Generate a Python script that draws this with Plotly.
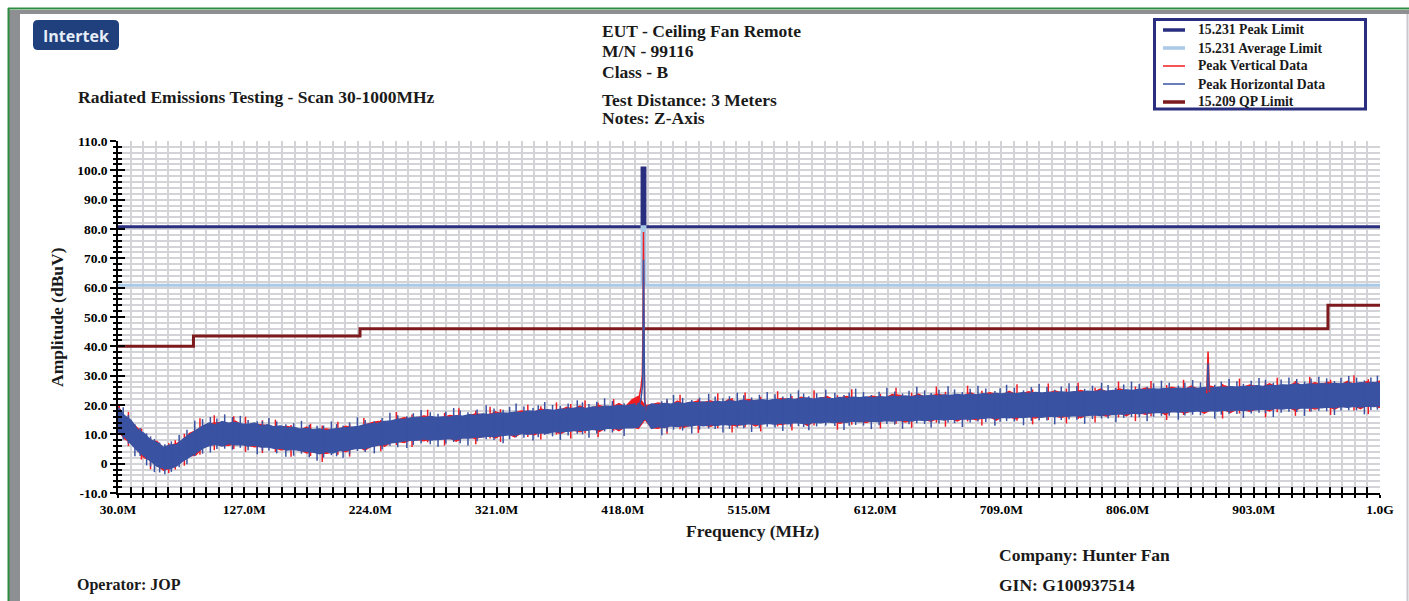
import plotly.graph_objects as go

# ---------------- scan data (dBuV), 5 MHz bins from 30 MHz ----------------
SCAN_START_MHZ = 30
SCAN_STEP_MHZ = 5

# Peak Horizontal Data: upper / lower envelope of the dense trace per bin
H_UP = [
    19.2, 16.4, 14.8, 11.6, 10.4, 8.1, 7.2, 5.6, 6.4, 6.5,
    8.4, 9.9, 11.6, 12.8, 13.9, 13.2, 14.4, 13.8, 14.1, 13.6,
    13.4, 13.9, 12.8, 13.3, 12.6, 12.9, 12.2, 12.5, 11.8, 12.0,
    11.6, 11.9, 11.3, 11.8, 12.0, 12.2, 12.6, 12.7, 13.4, 13.5,
    13.8, 14.4, 14.6, 15.2, 15.1, 15.6, 15.9, 15.7, 16.1, 15.8,
    16.0, 15.9, 16.4, 16.2, 16.7, 16.5, 17.0, 16.8, 17.1, 17.3,
    17.2, 17.6, 17.4, 18.0, 17.8, 18.1, 18.4, 18.2, 18.6, 18.7,
    18.8, 19.1, 18.9, 19.4, 19.2, 19.6, 19.5, 19.9, 19.7, 20.2,
    20.6, 19.0, 20.4, 20.1, 20.6, 20.3, 20.8, 20.5, 21.0, 20.7,
    21.1, 20.8, 21.3, 21.0, 21.5, 21.2, 21.7, 21.3, 21.6, 21.8,
    21.5, 22.0, 21.7, 22.2, 21.9, 22.1, 22.4, 22.0, 22.5, 22.3,
    22.2, 22.6, 22.3, 22.7, 22.5, 22.8, 22.4, 22.9, 22.7, 23.0,
    22.8, 23.1, 22.9, 23.2, 23.0, 23.4, 23.1, 23.5, 23.3, 23.6,
    23.4, 23.7, 23.5, 23.9, 23.6, 24.0, 23.8, 24.1, 23.9, 24.2,
    24.0, 24.3, 24.1, 24.4, 24.2, 24.5, 24.3, 24.6, 24.4, 24.7,
    24.6, 24.9, 24.7, 25.0, 24.9, 25.2, 25.0, 25.4, 25.2, 25.5,
    25.4, 25.7, 25.5, 25.8, 25.6, 25.9, 25.7, 26.0, 25.8, 26.1,
    26.0, 26.3, 26.1, 26.4, 26.3, 26.6, 26.4, 26.7, 26.6, 26.9,
    26.8, 27.1, 26.9, 27.2, 27.0, 27.3, 27.1, 27.4, 27.2, 27.5,
    27.3, 27.6, 27.4, 27.7, 27.5,
]
H_LO = [
    11.0, 9.2, 6.8, 4.4, 2.6, 0.9, -0.9, -1.6, -1.8, -0.8,
    0.9, 2.3, 3.6, 5.2, 6.1, 6.6, 6.0, 6.8, 6.4, 6.5,
    6.0, 6.3, 5.6, 5.7, 5.2, 5.3, 4.6, 4.9, 4.4, 4.1,
    3.9, 3.3, 4.1, 3.6, 4.4, 4.5, 4.8, 5.3, 5.2, 5.8,
    6.3, 6.5, 7.1, 7.3, 7.8, 7.9, 8.0, 8.4, 8.0, 8.3,
    8.3, 8.5, 8.2, 8.8, 8.7, 9.1, 9.0, 9.4, 9.3, 9.6,
    9.8, 9.7, 10.2, 10.0, 10.4, 10.5, 10.3, 10.9, 10.8, 11.0,
    11.1, 11.4, 11.3, 11.7, 11.5, 11.9, 12.1, 11.8, 12.3, 12.2,
    12.4, 15.6, 12.0, 12.6, 12.3, 12.9, 12.6, 13.0, 12.8, 13.2,
    12.9, 13.3, 13.0, 13.4, 13.1, 13.5, 13.2, 13.6, 13.4, 13.5,
    13.7, 13.4, 13.9, 13.6, 14.0, 13.8, 13.6, 14.1, 13.9, 14.2,
    14.0, 14.3, 14.1, 14.5, 14.2, 14.6, 14.4, 14.3, 14.7, 14.5,
    14.6, 14.8, 14.5, 14.9, 14.7, 15.0, 15.2, 14.8, 15.2, 15.1,
    15.3, 15.1, 15.5, 15.4, 15.7, 15.4, 15.8, 15.6, 15.9, 15.7,
    15.9, 16.1, 15.8, 16.2, 16.0, 16.3, 16.1, 16.4, 16.2, 16.5,
    16.6, 16.4, 16.8, 16.7, 17.0, 16.9, 17.2, 17.0, 17.4, 17.3,
    17.5, 17.3, 17.7, 17.6, 17.8, 17.7, 18.0, 17.8, 18.1, 17.9,
    18.2, 18.0, 18.3, 18.1, 18.4, 18.3, 18.6, 18.5, 18.8, 18.6,
    18.9, 18.7, 19.0, 18.9, 19.2, 19.0, 19.3, 19.1, 19.4, 19.2,
    19.5, 19.3, 19.6, 19.4, 19.7,
]

# Peak Vertical Data: upper / lower envelope of the dense trace per bin
V_UP = [
    19.6, 16.0, 14.3, 12.3, 10.0, 7.8, 7.6, 5.3, 6.0, 6.9,
    8.0, 10.4, 11.3, 12.5, 13.6, 13.9, 14.1, 13.5, 14.6, 13.3,
    13.1, 13.6, 13.4, 13.0, 12.3, 12.6, 12.7, 12.2, 11.5, 12.5,
    11.3, 11.6, 11.9, 11.5, 11.7, 12.8, 12.3, 12.4, 13.1, 14.0,
    14.4, 14.1, 14.3, 14.9, 15.7, 15.3, 15.6, 16.3, 15.8, 15.5,
    15.7, 16.5, 16.1, 15.9, 16.4, 17.1, 16.7, 16.5, 17.7, 17.0,
    16.9, 17.3, 18.0, 17.7, 17.5, 18.7, 18.1, 17.9, 18.3, 19.3,
    18.5, 19.7, 18.6, 19.1, 19.8, 19.3, 19.2, 20.5, 19.4, 21.8,
    23.0, 19.8, 20.1, 20.7, 20.3, 20.0, 21.4, 20.2, 20.7, 21.3,
    20.8, 21.4, 21.0, 20.7, 22.1, 20.9, 21.4, 21.9, 21.3, 21.5,
    21.2, 21.7, 22.3, 21.9, 21.6, 22.7, 22.1, 21.7, 22.2, 22.9,
    21.9, 22.3, 22.9, 22.4, 22.2, 22.5, 23.0, 22.6, 22.4, 23.6,
    23.4, 22.8, 22.6, 23.8, 22.7, 23.1, 23.7, 23.2, 23.0, 23.3,
    23.1, 24.3, 23.2, 23.6, 24.2, 23.7, 23.5, 24.7, 23.6, 23.9,
    24.6, 24.0, 23.8, 24.1, 24.8, 24.2, 24.0, 24.3, 25.0, 24.4,
    24.3, 25.5, 24.4, 24.7, 25.5, 24.9, 24.7, 25.1, 25.8, 25.2,
    25.1, 25.4, 26.1, 25.5, 25.3, 26.5, 25.4, 25.7, 26.4, 25.8,
    26.6, 26.0, 25.8, 26.1, 26.9, 26.3, 26.1, 27.3, 26.3, 26.6,
    26.5, 27.7, 26.6, 26.9, 27.6, 27.0, 27.8, 27.1, 26.9, 28.1,
    27.0, 27.3, 28.0, 27.4, 28.2,
]
V_LO = [
    11.3, 8.5, 7.1, 4.7, 2.0, 1.2, -0.6, -2.3, -1.5, -0.5,
    1.2, 2.6, 3.0, 5.5, 6.4, 6.9, 6.3, 6.2, 6.7, 6.8,
    6.3, 5.7, 5.9, 6.0, 5.5, 4.7, 4.9, 5.2, 4.7, 3.6,
    4.2, 3.6, 3.5, 3.9, 4.7, 4.0, 5.1, 5.6, 4.6, 6.1,
    6.6, 5.9, 7.4, 7.6, 7.2, 8.2, 8.3, 7.8, 8.3, 8.6,
    8.6, 8.8, 7.6, 9.1, 9.0, 8.5, 9.3, 9.7, 8.7, 9.9,
    10.1, 9.1, 10.5, 10.3, 9.8, 10.8, 10.6, 11.2, 10.2, 11.3,
    11.4, 10.8, 11.6, 12.0, 10.9, 12.2, 12.4, 11.2, 12.6, 12.5,
    12.0, 15.0, 12.3, 12.0, 12.6, 13.2, 12.9, 12.4, 13.1, 13.5,
    13.2, 12.7, 13.3, 13.7, 13.4, 12.9, 13.5, 13.9, 12.8, 13.8,
    14.0, 13.7, 13.3, 13.9, 14.3, 14.1, 13.0, 14.4, 14.2, 14.5,
    14.3, 13.7, 14.4, 14.8, 14.5, 14.0, 14.7, 14.6, 15.0, 14.8,
    14.9, 14.2, 14.8, 15.2, 15.0, 14.4, 15.5, 15.1, 15.5, 14.5,
    15.6, 15.4, 14.9, 15.7, 16.0, 14.8, 16.1, 15.9, 15.3, 16.0,
    16.2, 15.5, 16.1, 16.5, 16.3, 15.7, 16.4, 16.7, 15.6, 16.8,
    16.9, 16.7, 16.2, 17.0, 17.3, 16.3, 17.5, 17.3, 16.8, 17.6,
    17.8, 16.7, 18.0, 17.9, 17.2, 18.0, 18.3, 17.2, 18.4, 18.2,
    18.5, 17.4, 18.6, 18.4, 17.8, 18.6, 18.9, 17.9, 19.1, 18.9,
    19.2, 18.1, 19.3, 19.2, 18.6, 19.3, 19.6, 18.5, 19.7, 19.5,
    19.8, 18.7, 19.9, 19.7, 19.1,
]

SCAN_MHZ = [SCAN_START_MHZ + SCAN_STEP_MHZ * i for i in range(len(H_UP))]

# Individual noise peaks reaching past the envelope: frequency, low end, high end
H_PK_MHZ = [34, 43, 52, 58, 66, 77, 89, 101, 112, 124, 137, 146, 159, 171, 183,
            194, 203, 214, 227, 239, 252, 263, 276, 288, 299, 313, 326, 336, 349,
            358, 370, 383, 392, 404, 419, 448, 457, 471, 484, 495, 506, 517, 529,
            541, 553, 561, 574, 588, 597, 609, 621, 633, 644, 655, 668, 679, 691,
            704, 713, 726, 738, 750, 761, 773, 786, 797, 809, 821, 832, 845, 856,
            873, 884, 895, 907, 918, 930, 942, 953, 965, 976, 988, 998]
H_PK_LO = [8.2, 2.5, -0.6, -2.9, -3.6, -1.2, 2.6, 3.8, 5.1, 5.4, 3.2, 4.5, 2.4, 3.4, 1.0,
           2.9, 2.0, 4.3, 3.5, 6.1, 5.3, 7.0, 5.8, 7.4, 6.2, 8.3, 7.0, 9.0, 7.9,
           9.8, 8.1, 10.2, 8.8, 11.0, 9.4, 9.7, 11.6, 10.3, 12.0, 10.6, 12.3, 10.8, 12.6,
           11.1, 12.8, 11.4, 13.0, 11.5, 13.2, 11.8, 13.5, 11.9, 13.8, 12.3, 14.0, 12.5, 14.4,
           12.9, 14.5, 13.1, 14.8, 13.4, 15.1, 13.6, 15.4, 14.1, 15.9, 14.5, 16.3, 15.0, 16.7,
           15.3, 17.0, 15.6, 17.4, 15.9, 17.7, 16.3, 18.0, 16.6, 18.2, 16.8, 18.4]
H_PK_HI = [19.2, 13.4, 10.3, 8.4, 6.6, 9.8, 14.6, 15.9, 16.8, 16.3, 14.5, 15.6, 13.4, 14.6, 12.9,
           14.4, 13.0, 15.8, 14.5, 17.4, 16.2, 18.3, 17.0, 19.0, 17.5, 19.9, 18.4, 20.5, 19.0,
           21.0, 19.7, 21.6, 20.3, 22.3, 20.6, 21.3, 23.4, 21.7, 23.8, 22.3, 24.2, 22.6, 24.4,
           22.9, 25.0, 23.0, 25.2, 23.4, 25.6, 23.4, 25.9, 23.9, 26.2, 24.1, 26.4, 24.4, 26.6,
           24.8, 26.9, 25.0, 27.2, 25.2, 27.4, 25.5, 27.6, 25.9, 28.0, 26.2, 28.3, 26.6, 28.5,
           26.9, 28.9, 27.2, 29.2, 27.6, 29.4, 28.0, 29.6, 28.2, 29.9, 28.4, 30.0]

H_PK2_MHZ = [38, 47, 55, 62, 71, 83, 95, 106, 118, 130, 141, 152, 165, 177, 188,
             198, 208, 220, 233, 245, 257, 270, 282, 293, 306, 319, 331, 342, 353,
             364, 376, 387, 398, 410, 452, 464, 477, 489, 500, 511, 523, 535, 547,
             557, 567, 581, 592, 603, 615, 627, 638, 650, 661, 673, 685, 697, 708,
             719, 732, 744, 755, 767, 779, 791, 803, 815, 826, 838, 850, 862, 878,
             890, 901, 912, 924, 936, 947, 959, 970, 982, 993]
H_PK2_LO = [6.8, 2.6, -1.0, -3.0, -2.8, -0.2, 3.4, 5.0, 4.8, 4.6, 4.4, 3.5, 2.7, 2.2, 2.1,
            2.5, 3.1, 4.0, 4.9, 5.6, 6.4, 6.6, 6.9, 7.0, 7.6, 8.1, 8.3, 8.8, 9.0,
            9.3, 9.6, 10.0, 10.3, 10.6, 11.0, 11.3, 11.6, 11.8, 11.9, 12.1, 12.2, 12.3, 12.6,
            12.5, 12.7, 12.8, 12.9, 13.0, 13.1, 13.3, 13.4, 13.5, 13.7, 13.8, 14.0, 14.2, 14.3,
            14.4, 14.6, 14.7, 14.9, 15.0, 15.2, 15.4, 15.6, 15.8, 16.0, 16.3, 16.4, 16.5, 16.7,
            16.9, 17.1, 17.2, 17.4, 17.6, 17.8, 17.9, 18.1, 18.2, 18.3]
H_PK2_HI = [16.6, 12.2, 9.3, 7.2, 7.6, 11.6, 15.2, 15.4, 15.9, 14.9, 14.5, 14.4, 13.8, 13.3, 13.0,
            13.5, 14.1, 14.9, 15.6, 16.5, 17.2, 17.5, 17.8, 18.1, 18.5, 18.8, 19.3, 19.5, 19.9,
            20.0, 20.5, 20.9, 21.1, 21.4, 22.1, 22.4, 22.5, 22.9, 23.0, 23.3, 23.5, 23.7, 23.8,
            23.9, 24.0, 24.2, 24.3, 24.4, 24.5, 24.6, 24.9, 25.0, 25.2, 25.3, 25.5, 25.6, 25.7,
            25.9, 26.1, 26.1, 26.3, 26.5, 26.6, 26.8, 27.0, 27.2, 27.4, 27.6, 27.6, 27.7, 28.0,
            28.1, 28.3, 28.6, 28.7, 28.9, 29.0, 29.1, 29.3, 29.3, 29.4]

V_PK_MHZ = [31, 38, 48, 55, 69, 74, 81, 93, 104, 119, 128, 141, 151, 163, 178,
            187, 199, 208, 219, 232, 244, 256, 268, 281, 292, 305, 316, 324, 345,
            355, 367, 378, 389, 399, 411, 452, 462, 476, 491, 502, 512, 524, 537,
            548, 565, 583, 594, 616, 628, 640, 659, 666, 683, 694, 721, 733, 745,
            759, 768, 781, 799, 812, 824, 836, 849, 879, 892, 912, 921, 935, 946,
            962, 980, 991]
V_PK_LO = [9.8, 6.0, 1.4, -1.9, -3.2, -2.0, -0.7, 3.0, 4.6, 5.0, 4.0, 3.6, 4.0, 2.4, 2.6,
           0.6, 3.0, 2.4, 4.6, 4.2, 6.4, 5.7, 7.3, 6.2, 7.7, 6.6, 8.6, 7.4, 9.1,
           8.2, 9.9, 8.6, 10.4, 9.1, 11.2, 10.2, 11.7, 10.5, 12.1, 10.6, 12.4, 11.0, 12.7,
           11.3, 13.0, 11.6, 13.3, 12.0, 13.6, 12.2, 14.0, 12.6, 14.4, 13.0, 14.6, 13.4, 14.9,
           13.7, 15.2, 14.0, 15.8, 14.5, 16.2, 14.9, 16.6, 15.4, 17.1, 15.8, 17.5, 16.3, 17.8,
           16.6, 18.1, 16.9]
V_PK_HI = [19.9, 17.6, 12.0, 8.7, 7.0, 8.0, 10.2, 15.5, 16.5, 16.2, 16.0, 14.8, 15.0, 13.2, 13.6,
           13.0, 14.3, 13.5, 15.6, 14.9, 17.6, 16.8, 18.4, 17.3, 18.9, 18.0, 19.4, 18.6, 20.1,
           19.6, 20.9, 20.3, 21.5, 20.8, 22.0, 21.5, 23.5, 22.0, 24.0, 22.4, 24.3, 22.8, 24.7,
           23.1, 25.0, 23.3, 25.4, 23.8, 25.9, 24.2, 26.3, 24.5, 26.6, 24.9, 27.1, 25.3, 27.3,
           25.6, 27.6, 25.9, 28.0, 26.3, 28.2, 26.8, 28.6, 27.2, 29.0, 27.7, 29.3, 28.2, 29.6,
           28.6, 30.1, 28.8]

# Fundamental at 433.92 MHz and its 2nd harmonic
V_FUND_MHZ = [428.0, 430.5, 432.0, 433.0, 433.5, 433.92, 434.3, 434.8, 436.0]
V_FUND_DBUV = [20.0, 22.5, 26.0, 30.0, 45.0, 79.0, 40.0, 22.0, 18.0]
H_FUND_MHZ = [430.0, 432.0, 433.2, 433.6, 433.92, 434.3, 434.8, 436.0]
H_FUND_DBUV = [19.0, 22.0, 27.0, 40.0, 69.5, 35.0, 21.0, 18.0]
V_HARM_MHZ = [866.8, 867.84, 868.9]
V_HARM_DBUV = [24.0, 38.2, 24.5]
H_HARM_MHZ = [867.2, 867.84, 868.5]
H_HARM_DBUV = [25.0, 34.2, 25.0]

# Limits
PK_LIMIT_MHZ = [30, 432.8, 432.8, 435.0, 435.0, 1000]
PK_LIMIT_DBUV = [80.8, 80.8, 100.8, 100.8, 80.8, 80.8]
AV_LIMIT_MHZ = [30, 432.8, 432.8, 435.0, 435.0, 1000]
AV_LIMIT_DBUV = [60.8, 60.8, 80.8, 80.8, 60.8, 60.8]
QP_LIMIT_MHZ = [30, 88, 88, 216, 216, 960, 960, 1000]
QP_LIMIT_DBUV = [40, 40, 43.5, 43.5, 46, 46, 54, 54]

# Axis ticks
X_TICKS = [30, 127, 224, 321, 418, 515, 612, 709, 806, 903, 1000]
X_LABELS = ["30.0M", "127.0M", "224.0M", "321.0M", "418.0M", "515.0M",
            "612.0M", "709.0M", "806.0M", "903.0M", "1.0G"]
Y_TICKS = [-10, 0, 10, 20, 30, 40, 50, 60, 70, 80, 90, 100, 110]
Y_LABELS = ["-10.0", "0", "10.0", "20.0", "30.0", "40.0", "50.0", "60.0",
            "70.0", "80.0", "90.0", "100.0", "110.0"]

# ---------------- styling ----------------
W, H = 1409, 601
L, R, T, B = 118, 1380, 141, 493
FONT = "Liberation Serif"
NAVY = "#2a2e7e"
LIGHT_BLUE = "#a9c9e6"
RED = "#f01c22"
BLUE = "#3a52a2"
MAROON = "#7d1a1e"
GRID = "#d4d4d8"
INK = "#1a1a1a"


def px_x(px):
    return (px - L) / (R - L)


def px_y(py):
    return (B - py) / (B - T)


def band(up, lo, color):
    return go.Scatter(x=SCAN_MHZ + SCAN_MHZ[::-1], y=up + lo[::-1],
                      mode="lines", fill="toself", fillcolor=color,
                      line=dict(color=color, width=1.2),
                      showlegend=False, hoverinfo="skip")


def peaks(freqs, lows, highs, color):
    assert len(freqs) == len(lows) == len(highs)
    xs, ys = [], []
    for f, lo, hi in zip(freqs, lows, highs):
        xs += [f, f, None]
        ys += [lo, hi, None]
    return go.Scatter(x=xs, y=ys, mode="lines", line=dict(color=color, width=1.5),
                      showlegend=False, hoverinfo="skip")


def trace_line(xs, ys, color, width):
    return go.Scatter(x=xs, y=ys, mode="lines", line=dict(color=color, width=width),
                      showlegend=False, hoverinfo="skip")


fig = go.Figure()

# limit lines
fig.add_trace(trace_line(PK_LIMIT_MHZ, PK_LIMIT_DBUV, NAVY, 3))
fig.add_trace(trace_line(AV_LIMIT_MHZ, AV_LIMIT_DBUV, LIGHT_BLUE, 3))
fig.add_trace(trace_line(QP_LIMIT_MHZ, QP_LIMIT_DBUV, MAROON, 3))

# measured data: vertical first, horizontal on top
fig.add_trace(band(V_UP, V_LO, RED))
fig.add_trace(peaks(V_PK_MHZ, V_PK_LO, V_PK_HI, RED))
fig.add_trace(band(H_UP, H_LO, BLUE))
fig.add_trace(peaks(H_PK_MHZ, H_PK_LO, H_PK_HI, BLUE))
fig.add_trace(peaks(H_PK2_MHZ, H_PK2_LO, H_PK2_HI, BLUE))
fig.add_trace(trace_line(V_FUND_MHZ, V_FUND_DBUV, RED, 1.5))
fig.add_trace(trace_line(H_FUND_MHZ, H_FUND_DBUV, BLUE, 1.5))
fig.add_trace(trace_line(V_HARM_MHZ, V_HARM_DBUV, RED, 1.5))
fig.add_trace(trace_line(H_HARM_MHZ, H_HARM_DBUV, BLUE, 1.5))

# companion axes carrying the inward half of the ticks
fig.add_trace(go.Scatter(x=[], y=[], xaxis="x2", yaxis="y", showlegend=False,
                         hoverinfo="skip"))
fig.add_trace(go.Scatter(x=[], y=[], xaxis="x", yaxis="y2", showlegend=False,
                         hoverinfo="skip"))

tickfont = dict(family=FONT, size=13.5, color="black", weight="bold")

fig.update_layout(
    width=W, height=H,
    margin=dict(l=L, r=W - R, t=T, b=H - B, pad=0),
    paper_bgcolor="white", plot_bgcolor="white",
    font=dict(family=FONT, size=13, color="black"),
    showlegend=False,
    xaxis=dict(
        range=[30, 1000], tickmode="array", tickvals=X_TICKS, ticktext=X_LABELS,
        ticks="outside", ticklen=3, tickwidth=1.5, tickcolor="black",
        showline=True, linecolor="black", linewidth=1.5,
        showgrid=True, gridcolor=GRID, gridwidth=2, zeroline=False,
        tickfont=tickfont,
        minor=dict(tickmode="linear", tick0=30, dtick=9.7, ticks="outside",
                   ticklen=3, tickwidth=1.5, tickcolor="black",
                   showgrid=True, gridcolor=GRID, gridwidth=2),
    ),
    xaxis2=dict(
        range=[30, 1000], overlaying="x", anchor="y", side="bottom",
        tickmode="array", tickvals=X_TICKS, ticks="inside", ticklen=6,
        tickwidth=1.5, tickcolor="black", showticklabels=False,
        showgrid=False, showline=False, zeroline=False,
        minor=dict(tickmode="linear", tick0=30, dtick=9.7, ticks="inside",
                   ticklen=6, tickwidth=1.5, tickcolor="black", showgrid=False),
    ),
    yaxis=dict(
        range=[-10, 110], tickmode="array", tickvals=Y_TICKS, ticktext=Y_LABELS,
        ticks="outside", ticklen=6, tickwidth=1.5, tickcolor="black",
        showline=True, linecolor="black", linewidth=1.5,
        showgrid=True, gridcolor=GRID, gridwidth=2, zeroline=False,
        tickfont=tickfont,
        minor=dict(tickmode="linear", tick0=-10, dtick=2, ticks="outside",
                   ticklen=3, tickwidth=1.5, tickcolor="black",
                   showgrid=True, gridcolor=GRID, gridwidth=2),
    ),
    yaxis2=dict(
        range=[-10, 110], overlaying="y", anchor="x", side="left",
        tickmode="array", tickvals=Y_TICKS, ticks="inside", ticklen=7,
        tickwidth=1.5, tickcolor="black", showticklabels=False,
        showgrid=False, showline=False, zeroline=False,
        minor=dict(tickmode="linear", tick0=-10, dtick=2, ticks="inside",
                   ticklen=4, tickwidth=1.5, tickcolor="black", showgrid=False),
    ),
)

# header / footer text
TXT = 17.5
texts = [
    ("Radiated Emissions Testing - Scan 30-1000MHz", 76, 97, TXT),
    ("EUT - Ceiling Fan Remote", 600, 31, TXT),
    ("M/N - 99116", 600, 51, TXT),
    ("Class - B", 600, 72, TXT),
    ("Test Distance: 3 Meters", 600, 100, TXT),
    ("Notes: Z-Axis", 600, 118, TXT),
    ("Company: Hunter Fan", 997, 555, TXT),
    ("GIN: G100937514", 997, 585, TXT),
    ("Operator: JOP", 75, 585, 16),
]
for s, x, y, size in texts:
    fig.add_annotation(text=s, x=px_x(x), y=px_y(y), xref="paper", yref="paper",
                       xanchor="left", yanchor="middle", showarrow=False,
                       font=dict(family=FONT, size=size, color=INK, weight="bold"))

fig.add_annotation(text="Frequency (MHz)", x=px_x(752), y=px_y(531),
                   xref="paper", yref="paper", xanchor="center", yanchor="middle",
                   showarrow=False,
                   font=dict(family=FONT, size=TXT, color=INK, weight="bold"))
fig.add_annotation(text="Amplitude (dBuV)", x=px_x(57), y=px_y(317),
                   xref="paper", yref="paper", xanchor="center", yanchor="middle",
                   textangle=-90, showarrow=False,
                   font=dict(family=FONT, size=TXT, color=INK, weight="bold"))

# legend box
LEGEND = [
    ("15.231 Peak Limit", NAVY, 3.5),
    ("15.231 Average Limit", LIGHT_BLUE, 3.5),
    ("Peak Vertical Data", RED, 1.5),
    ("Peak Horizontal Data", BLUE, 1.5),
    ("15.209 QP Limit", MAROON, 3.5),
]
shapes = [dict(type="rect", x0=px_x(1154.5), x1=px_x(1365.5), y0=px_y(109), y1=px_y(19.5),
               fillcolor="white", line=dict(color=NAVY, width=3))]
for i, (name, color, width) in enumerate(LEGEND):
    yy = 30 + 18 * i
    shapes.append(dict(type="line", x0=px_x(1163), x1=px_x(1185), y0=px_y(yy), y1=px_y(yy),
                       line=dict(color=color, width=width)))
    fig.add_annotation(text=name, x=px_x(1196), y=px_y(yy), xref="paper", yref="paper",
                       xanchor="left", yanchor="middle", showarrow=False,
                       font=dict(family=FONT, size=13.7, color=INK, weight="bold"))

# page frame
shapes += [
    dict(type="rect", x0=px_x(9), x1=px_x(W), y0=px_y(14), y1=px_y(10),
         fillcolor="#8e8f93", line=dict(width=0)),
    dict(type="rect", x0=px_x(9), x1=px_x(20), y0=px_y(H), y1=px_y(10),
         fillcolor="#8e8f93", line=dict(width=0)),
    dict(type="line", x0=px_x(8), x1=px_x(W), y0=px_y(8.5), y1=px_y(8.5),
         line=dict(color="#2e8b42", width=2)),
    dict(type="line", x0=px_x(8.5), x1=px_x(8.5), y0=px_y(8), y1=px_y(H),
         line=dict(color="#2e8b42", width=2)),
    dict(type="line", x0=px_x(1407.5), x1=px_x(1407.5), y0=px_y(14), y1=px_y(H),
         line=dict(color="#c8c8cc", width=2)),
]
# logo badge (rounded rectangle)
x0, x1, y0, y1, r = 33, 119, 20, 50, 5
path = (f"M {px_x(x0 + r)} {px_y(y0)} L {px_x(x1 - r)} {px_y(y0)} "
        f"Q {px_x(x1)} {px_y(y0)} {px_x(x1)} {px_y(y0 + r)} "
        f"L {px_x(x1)} {px_y(y1 - r)} Q {px_x(x1)} {px_y(y1)} {px_x(x1 - r)} {px_y(y1)} "
        f"L {px_x(x0 + r)} {px_y(y1)} Q {px_x(x0)} {px_y(y1)} {px_x(x0)} {px_y(y1 - r)} "
        f"L {px_x(x0)} {px_y(y0 + r)} Q {px_x(x0)} {px_y(y0)} {px_x(x0 + r)} {px_y(y0)} Z")
shapes.append(dict(type="path", path=path, fillcolor="#1f3f7d", line=dict(width=0)))
for s in shapes:
    s.setdefault("xref", "paper")
    s.setdefault("yref", "paper")
fig.update_layout(shapes=shapes)

fig.add_annotation(text="Intertek", x=px_x(76), y=px_y(36), xref="paper", yref="paper",
                   xanchor="center", yanchor="middle", showarrow=False,
                   font=dict(family="Open Sans", size=16, color="#e6edf6", weight="bold"))

fig.write_html("out.html")
